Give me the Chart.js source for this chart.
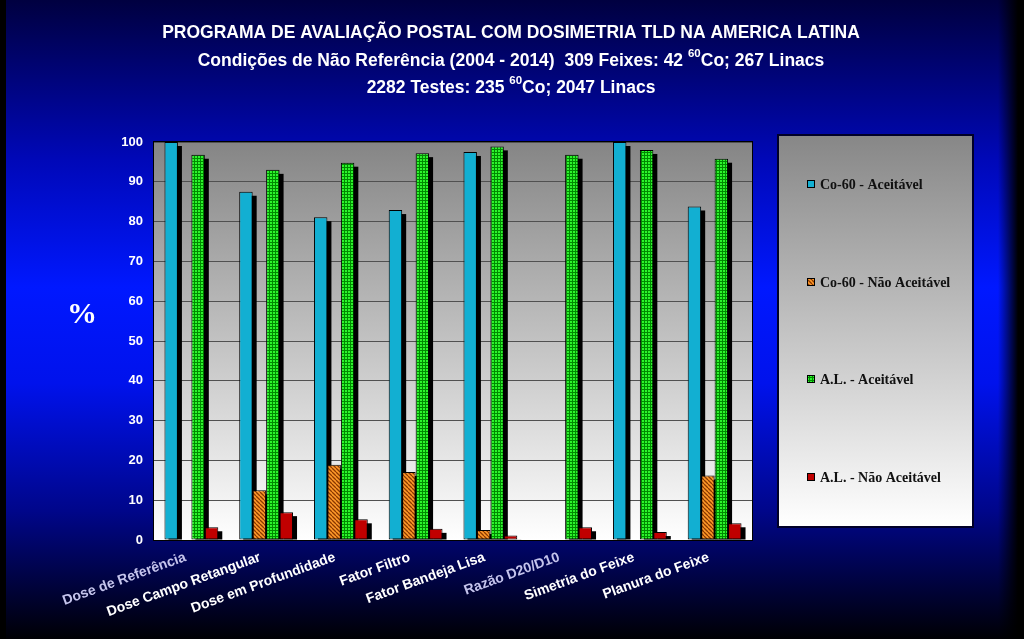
<!DOCTYPE html>
<html><head><meta charset="utf-8">
<script src="https://cdn.jsdelivr.net/npm/chart.js@4.4.1/dist/chart.umd.min.js"></script>
<style>html,body{margin:0;padding:0;background:#000;overflow:hidden}#wrap{width:1024px;height:639px}</style>
</head><body><div id="wrap"><canvas id="c" width="1024" height="639"></canvas></div>
<script>
// ---------- DATA ----------
const categories = ['Dose de Referência','Dose Campo Retangular','Dose em Profundidade','Fator Filtro','Fator Bandeja Lisa','Razão D20/D10','Simetria do Feixe','Planura do Feixe'];
const seriesNames = ['Co-60 - Aceitável','Co-60 - Não Aceitável','A.L. - Aceitável','A.L. - Não Aceitável'];
const co60Aceitavel    = [100, 87.5, 81.1, 82.9, 97.5, 0, 100, 83.8];
const co60NaoAceitavel = [0, 12.5, 18.9, 17.1, 2.5, 0, 0, 16.2];
const alAceitavel      = [96.8, 93.0, 94.8, 97.2, 98.9, 96.8, 98.0, 95.8];
const alNaoAceitavel   = [3.2, 7.0, 5.2, 2.8, 1.1, 3.2, 2.0, 4.2];
const yMin = 0, yMax = 100, yStep = 10;
const titleLines = [
  'PROGRAMA DE AVALIAÇÃO POSTAL COM DOSIMETRIA TLD NA AMERICA LATINA',
  'Condições de Não Referência (2004 - 2014)  309 Feixes: 42 ^{60}Co; 267 Linacs',
  '2282 Testes: 235 ^{60}Co; 2047 Linacs'
];
const yAxisLabel = '%';

// ---------- STYLE ----------
const canvas = document.getElementById('c');
const ctx = canvas.getContext('2d');
function tile(w,h,draw){const c=document.createElement('canvas');c.width=w;c.height=h;draw(c.getContext('2d'));return ctx.createPattern(c,'repeat');}
const hatchOrange = tile(4,4,g=>{g.fillStyle='#ff9a2a';g.fillRect(0,0,4,4);g.strokeStyle='#8a3800';g.lineWidth=1.3;g.beginPath();for(let k=-4;k<=8;k+=4){g.moveTo(k,0);g.lineTo(k+4,4);}g.stroke();});
const checkGreen = tile(3,3,g=>{g.fillStyle='#008a00';g.fillRect(0,0,3,3);g.fillStyle='#2cf52c';g.fillRect(0,0,2,2);});
const fills = ['#12afd2', hatchOrange, checkGreen, '#c00000'];
const labelColors = ['#c4c4ec','#ffffff','#ffffff','#ffffff','#ffffff','#c4c4ec','#ffffff','#ffffff'];
const seriesData = [co60Aceitavel, co60NaoAceitavel, alAceitavel, alNaoAceitavel];

const bgPlugin = {
  id:'bg',
  beforeDraw(chart){
    const c=chart.ctx, W=chart.width, H=chart.height, a=chart.chartArea;
    c.save();
    let g=c.createLinearGradient(0,0,0,H);
    g.addColorStop(0,'#000040');g.addColorStop(0.25,'#0008b8');g.addColorStop(0.45,'#0018ff');g.addColorStop(0.6,'#0012ec');
    g.addColorStop(0.8,'#00068a');g.addColorStop(1,'#000004');
    c.fillStyle=g;c.fillRect(0,0,W,H);
    let gr=c.createLinearGradient(998,0,1018,0);
    gr.addColorStop(0,'rgba(0,0,0,0)');gr.addColorStop(1,'rgba(0,0,0,1)');
    c.fillStyle=gr;c.fillRect(998,0,26,H);
    c.fillStyle='#000';c.fillRect(0,0,6,H);
    // plot area
    let gp=c.createLinearGradient(0,a.top,0,a.bottom);
    gp.addColorStop(0,'#858585');gp.addColorStop(1,'#ffffff');
    c.fillStyle=gp;c.fillRect(a.left,a.top,a.right-a.left,a.bottom-a.top);
    // titles
    c.fillStyle='#fff';c.textBaseline='middle';
    const ys=[33,61,88];
    titleLines.forEach((line,i)=>{
      const parts=line.split(/(\^\{[^}]*\})/).filter(s=>s.length);
      const segs=parts.map(p=>{const m=p.match(/^\^\{(.*)\}$/);return m?{t:m[1],sup:true}:{t:p,sup:false};});
      const big='bold 17.5px "Liberation Sans", Arial, sans-serif', small='bold 11.5px "Liberation Sans", Arial, sans-serif';
      let total=0;segs.forEach(s=>{c.font=s.sup?small:big;s.w=c.measureText(s.t).width;total+=s.w;});
      let x=511-total/2;c.textAlign='left';
      segs.forEach(s=>{c.font=s.sup?small:big;c.fillText(s.t,x,ys[i]+(s.sup?-7:0));x+=s.w;});
    });
    // y label
    c.font='bold 30px "Liberation Serif", "Times New Roman", serif';c.textAlign='center';
    c.fillText(yAxisLabel,82,315);
    c.restore();
  },
  beforeDatasetsDraw(chart){
    const c=chart.ctx,a=chart.chartArea;
    c.save();c.beginPath();c.rect(a.left,a.top,a.right-a.left+6,a.bottom-a.top);c.clip();
    c.fillStyle='#000';
    chart.data.datasets.forEach((ds,di)=>{
      chart.getDatasetMeta(di).data.forEach(el=>{
        const p=el.getProps(['x','y','base','width'],true);
        if(p.base-p.y<1)return;
        c.fillRect(p.x-p.width/2+4,p.y+4,p.width,p.base-p.y-4);
      });
    });
    c.restore();
  },
  afterDraw(chart){
    const c=chart.ctx,a=chart.chartArea;
    c.save();
    c.strokeStyle='#000';c.lineWidth=1;
    c.strokeRect(a.left-0.5,a.top-0.5,a.right-a.left+1,a.bottom-a.top+1);
    // legend box
    const lx=779,ly=136,lw=193,lh=390;
    let gl=c.createLinearGradient(0,ly,0,ly+lh);
    gl.addColorStop(0,'#878787');gl.addColorStop(1,'#ffffff');
    c.fillStyle=gl;c.fillRect(lx,ly,lw,lh);
    c.strokeStyle='#000028';c.lineWidth=2;c.strokeRect(lx-1,ly-1,lw+2,lh+2);
    const rows=[184,282,379,477];
    c.font='bold 14px "Liberation Serif", "Times New Roman", serif';c.textBaseline='middle';c.textAlign='left';
    chart.data.datasets.forEach((ds,i)=>{
      c.fillStyle=ds.backgroundColor;c.fillRect(807,rows[i]-4,8,8);
      c.strokeStyle='#000';c.lineWidth=1;c.strokeRect(807.5,rows[i]-3.5,7,7);
      c.fillStyle='#111';c.fillText(ds.label,820,rows[i]+1);
    });
    c.restore();
  }
};

new Chart(ctx,{
  type:'bar',
  data:{labels:categories,datasets:seriesNames.map((n,i)=>({label:n,data:seriesData[i],backgroundColor:fills[i],borderColor:'#000',borderWidth:1,borderSkipped:false}))},
  options:{
    responsive:false,animation:false,
    layout:{padding:{top:142,right:272,left:0,bottom:0}},
    datasets:{bar:{categoryPercentage:0.72,barPercentage:1}},
    plugins:{legend:{display:false},title:{display:false},tooltip:{enabled:false}},
    scales:{
      x:{grid:{display:false},border:{display:false},
         ticks:{autoSkip:false,minRotation:20,maxRotation:20,padding:1,labelOffset:-6,color:c=>labelColors[c.index],
                font:{family:'"Liberation Sans", Arial, sans-serif',weight:'bold',size:14}},
         afterFit(s){s.height=99;}},
      y:{min:yMin,max:yMax,ticks:{stepSize:yStep,color:'#fff',padding:11,font:{family:'"Liberation Sans", Arial, sans-serif',weight:'bold',size:13}},
         grid:{color:'#505050',drawTicks:false},border:{display:false},
         afterFit(s){s.width=154;}}
    }
  },
  plugins:[bgPlugin]
});
</script></body></html>
